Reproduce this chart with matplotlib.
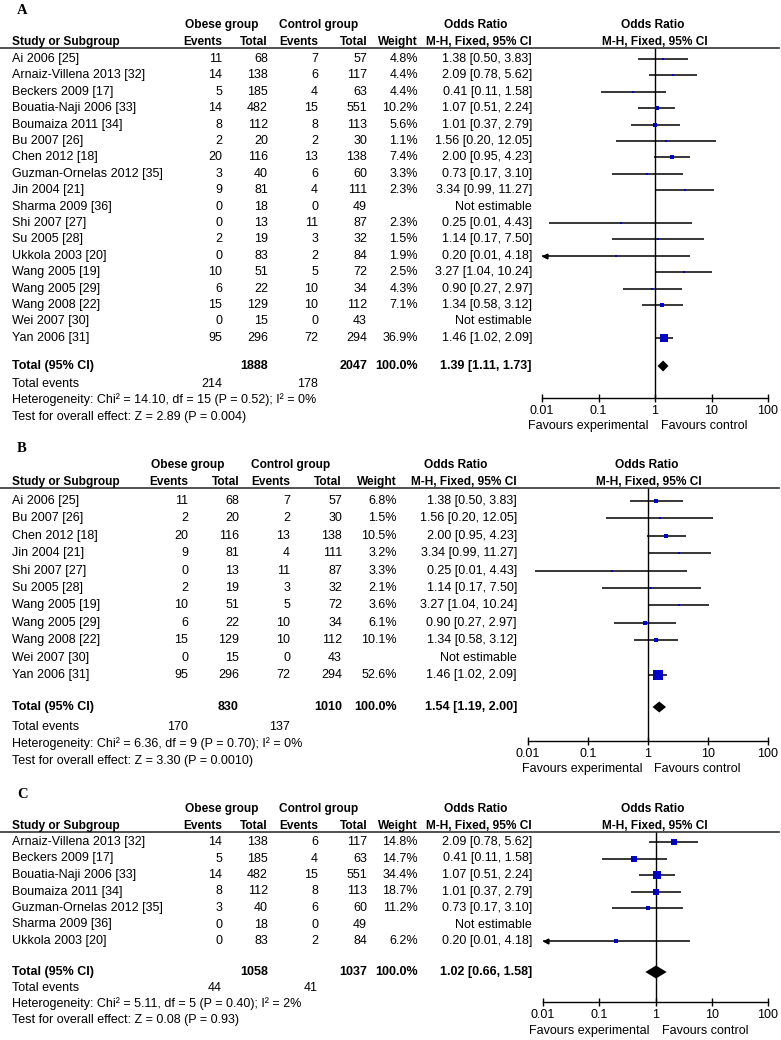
import matplotlib
matplotlib.use("Agg")
import matplotlib.pyplot as plt
import numpy as np

plt.rcParams['font.family'] = ['Liberation Sans', 'DejaVu Sans']

W, H = 781, 1040
fig = plt.figure(figsize=(W / 100, H / 100), dpi=100)
FS = 9
HFS = 8.6
BLUE = '#0000C8'

# ---------------- data (shared per study) ----------------
study_names = ["Ai 2006 [25]", "Arnaiz-Villena 2013 [32]", "Beckers 2009 [17]",
               "Bouatia-Naji 2006 [33]", "Boumaiza 2011 [34]", "Bu 2007 [26]",
               "Chen 2012 [18]", "Guzman-Ornelas 2012 [35]", "Jin 2004 [21]",
               "Sharma 2009 [36]", "Shi 2007 [27]", "Su 2005 [28]",
               "Ukkola 2003 [20]", "Wang 2005 [19]", "Wang 2005 [29]",
               "Wang 2008 [22]", "Wei 2007 [30]", "Yan 2006 [31]"]
obese_events = [11, 14, 5, 14, 8, 2, 20, 3, 9, 0, 0, 2, 0, 10, 6, 15, 0, 95]
obese_total = [68, 138, 185, 482, 112, 20, 116, 40, 81, 18, 13, 19, 83, 51, 22, 129, 15, 296]
control_events = [7, 6, 4, 15, 8, 2, 13, 6, 4, 0, 11, 3, 2, 5, 10, 10, 0, 72]
control_total = [57, 117, 63, 551, 113, 30, 138, 60, 111, 49, 87, 32, 84, 72, 34, 112, 43, 294]
odds_ratio = [1.38, 2.09, 0.41, 1.07, 1.01, 1.56, 2.00, 0.73, 3.34, None, 0.25, 1.14,
              0.20, 3.27, 0.90, 1.34, None, 1.46]
ci_low = [0.50, 0.78, 0.11, 0.51, 0.37, 0.20, 0.95, 0.17, 0.99, None, 0.0133, 0.17,
          0.008, 1.04, 0.27, 0.58, None, 1.02]
ci_high = [3.83, 5.62, 1.58, 2.24, 2.79, 12.05, 4.23, 3.10, 11.27, None, 4.43, 7.50,
           4.18, 10.24, 2.97, 3.12, None, 2.09]

# panel subsets (indices into study list) and weights (%)
idx_A = list(range(18))
weight_A = [4.8, 4.4, 4.4, 10.2, 5.6, 1.1, 7.4, 3.3, 2.3, None, 2.3, 1.5, 1.9, 2.5, 4.3, 7.1, None, 36.9]
idx_B = [0, 5, 6, 8, 10, 11, 13, 14, 15, 16, 17]
weight_B = [6.8, 1.5, 10.5, 3.2, 3.3, 2.1, 3.6, 6.1, 10.1, None, 52.6]
idx_C = [1, 2, 3, 4, 7, 9, 12]
weight_C = [14.8, 14.7, 34.4, 18.7, 11.2, None, 6.2]

# summary rows: total obese, total control, events obese, events control, OR, lo, hi
summary_A = [1888, 2047, 214, 178, 1.39, 1.11, 1.73]
summary_B = [830, 1010, 170, 137, 1.54, 1.19, 2.00]
summary_C = [1058, 1037, 44, 41, 1.02, 0.66, 1.58]
het_A = "Heterogeneity: Chi\u00b2 = 14.10, df = 15 (P = 0.52); I\u00b2 = 0%"
het_B = "Heterogeneity: Chi\u00b2 = 6.36, df = 9 (P = 0.70); I\u00b2 = 0%"
het_C = "Heterogeneity: Chi\u00b2 = 5.11, df = 5 (P = 0.40); I\u00b2 = 2%"
test_A = "Test for overall effect: Z = 2.89 (P = 0.004)"
test_B = "Test for overall effect: Z = 3.30 (P = 0.0010)"
test_C = "Test for overall effect: Z = 0.08 (P = 0.93)"
ticks = [0.01, 0.1, 1, 10, 100]
tick_labels = ["0.01", "0.1", "1", "10", "100"]


def T(x, y, s, ha='left', bold=False, size=FS, family=None):
    kw = {}
    if family:
        kw['family'] = family
    fig.text(x / W, 1 - y / H, s, ha=ha, va='center', fontsize=size,
             fontweight='bold' if bold else 'normal', **kw)


def fmt_ci(e, l, h):
    return f"{e:.2f} [{l:.2f}, {h:.2f}]"


def draw_panel(letter, idx, weights, summary, het, test, L):
    T(L['letter_x'], L['letter_y'], letter, bold=True, size=10.5,
      family=['Liberation Serif', 'DejaVu Serif'])
    gy, hy = L['grp_y'], L['hdr_y']
    T(L['grp1'], gy, "Obese group", ha='center', bold=True, size=HFS)
    T(L['grp2'], gy, "Control group", ha='center', bold=True, size=HFS)
    T(L['orc'], gy, "Odds Ratio", ha='center', bold=True, size=HFS)
    T(L['plotc'], gy, "Odds Ratio", ha='center', bold=True, size=HFS)
    T(12, hy, "Study or Subgroup", bold=True, size=HFS)
    T(L['ev1'], hy, "Events", ha='right', bold=True, size=HFS)
    T(L['tot1'], hy, "Total", ha='right', bold=True, size=HFS)
    T(L['ev2'], hy, "Events", ha='right', bold=True, size=HFS)
    T(L['tot2'], hy, "Total", ha='right', bold=True, size=HFS)
    T(L['wt'], hy, "Weight", ha='right', bold=True, size=HFS)
    T(L['ci'], hy, "M-H, Fixed, 95% CI", ha='right', bold=True, size=HFS)
    T(L['plotc'] + 2, hy, "M-H, Fixed, 95% CI", ha='center', bold=True, size=HFS)
    # header rule
    fig.add_artist(plt.Line2D([0, 779 / W], [1 - L['line_y'] / H] * 2,
                              transform=fig.transFigure, color='#333333', lw=1.2))

    # forest axes
    x0, x1 = L['px0'], L['px1']
    ytop, ybot = L['line_y'], L['axis_y']
    ax = fig.add_axes([x0 / W, 1 - ybot / H, (x1 - x0) / W, (ybot - ytop) / H])
    ax.set_xscale('log')
    ax.set_xlim(0.01, 100)
    ax.set_ylim(ybot, ytop)
    for sp in ['top', 'left', 'right']:
        ax.spines[sp].set_visible(False)
    ax.spines['bottom'].set_linewidth(1.0)
    ax.set_yticks([])
    ax.set_xticks(ticks)
    ax.set_xticklabels(tick_labels)
    ax.xaxis.set_minor_locator(matplotlib.ticker.NullLocator())
    ax.tick_params(axis='x', direction='inout', length=6, width=1.0,
                   labelsize=FS, pad=2)
    ax.patch.set_alpha(0)
    ax.axvline(1, color='black', lw=1.0, zorder=1)

    for k, (i, w) in enumerate(zip(idx, weights)):
        y = L['row0'] + k * L['dy']
        T(12, y, study_names[i])
        T(L['ev1'], y, str(obese_events[i]), ha='right')
        T(L['tot1'], y, str(obese_total[i]), ha='right')
        T(L['ev2'], y, str(control_events[i]), ha='right')
        T(L['tot2'], y, str(control_total[i]), ha='right')
        if w is None:
            T(L['ci'], y, "Not estimable", ha='right')
            continue
        T(L['wt'], y, f"{w:.1f}%", ha='right')
        e, l, h = odds_ratio[i], ci_low[i], ci_high[i]
        T(L['ci'], y, fmt_ci(e, l, h), ha='right')
        lo_draw = max(l, 0.01)
        ax.plot([lo_draw, h], [y, y], color='black', lw=1.1, zorder=2,
                solid_capstyle='butt')
        if l < 0.01:
            ax.plot([0.0112], [y], marker='<', ms=3.5, color='black',
                    clip_on=False, zorder=3)
        side = max(L['k'] * np.sqrt(w), 2.2) * 0.72
        ax.plot([e], [y], marker='s', ms=side, color=BLUE, mec=BLUE,
                mew=0, zorder=4)

    tn1, tn2, te1, te2, se, sl, sh = summary
    ty = L['tot_y']
    T(12, ty, "Total (95% CI)", bold=True)
    T(L['tot1'], ty, str(tn1), ha='right', bold=True)
    T(L['tot2'], ty, str(tn2), ha='right', bold=True)
    T(L['wt'], ty, "100.0%", ha='right', bold=True)
    T(L['ci'], ty, fmt_ci(se, sl, sh), ha='right', bold=True)
    hh = L['dh']
    ax.fill([sl, se, sh, se], [ty, ty - hh, ty, ty + hh], color='black',
            lw=0, zorder=5)
    T(12, L['ev_y'], "Total events")
    T(L['ev1'], L['ev_y'], str(te1), ha='right')
    T(L['ev2'], L['ev_y'], str(te2), ha='right')
    T(12, L['het_y'], het)
    T(12, L['test_y'], test)
    xone = x0 + (x1 - x0) * 0.5
    T(xone - 6, L['fav_y'], "Favours experimental", ha='right')
    T(xone + 6, L['fav_y'], "Favours control", ha='left')


LA = dict(letter_x=17, letter_y=10, grp_y=25, hdr_y=42, line_y=48,
          grp1=222, grp2=319, orc=476, plotc=653,
          ev1=222, tot1=268, ev2=318, tot2=367, wt=418, ci=532,
          px0=542, px1=768, axis_y=398, row0=59, dy=16.4, k=1.35,
          tot_y=366, ev_y=384, het_y=400, test_y=417, fav_y=426, dh=5.5)
LB = dict(letter_x=17, letter_y=448, grp_y=465, hdr_y=482, line_y=488,
          grp1=188, grp2=291, orc=456, plotc=647,
          ev1=188, tot1=239, ev2=290, tot2=342, wt=397, ci=517,
          px0=528, px1=768, axis_y=741, row0=501, dy=17.4, k=1.5,
          tot_y=707, ev_y=727, het_y=744, test_y=761, fav_y=769, dh=5.5)
LC = dict(letter_x=17, letter_y=795, grp_y=809, hdr_y=826, line_y=832,
          grp1=222, grp2=319, orc=476, plotc=653,
          ev1=222, tot1=268, ev2=318, tot2=367, wt=418, ci=532,
          px0=543, px1=768, axis_y=1002, row0=842, dy=16.5, k=1.38,
          tot_y=972, ev_y=988, het_y=1004, test_y=1020, fav_y=1031, dh=6.5)

draw_panel("A", idx_A, weight_A, summary_A, het_A, test_A, LA)
draw_panel("B", idx_B, weight_B, summary_B, het_B, test_B, LB)
draw_panel("C", idx_C, weight_C, summary_C, het_C, test_C, LC)

fig.savefig("out.png", dpi=100, facecolor='white')
